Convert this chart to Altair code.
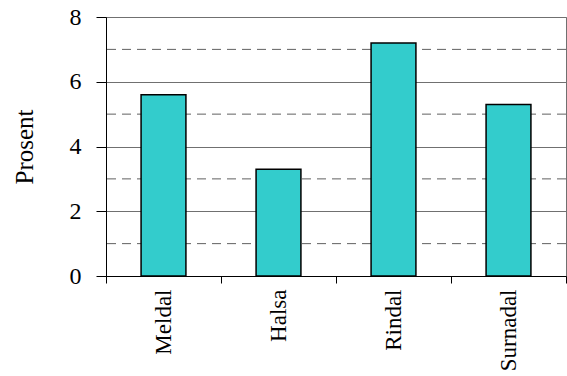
import altair as alt
import pandas as pd

# Municipalities and their percentage values
kommuner = ["Meldal", "Halsa", "Rindal", "Surnadal"]
prosent = [5.6, 3.3, 7.2, 5.3]

# Minor (dashed) gridline levels between the major ticks
minor_levels = [1, 3, 5, 7]

bars_df = pd.DataFrame({"kommune": kommuner, "prosent": prosent})
minor_df = pd.DataFrame({"level": minor_levels})

FONT = "Liberation Serif"

y_scale = alt.Scale(domain=[0, 8], nice=False)

dashed = alt.Chart(minor_df).mark_rule(
    color="#606060", strokeDash=[9, 6], strokeWidth=1
).encode(y=alt.Y("level:Q", scale=y_scale))

bars = alt.Chart(bars_df).mark_bar(
    color="#33CCCC",
    stroke="black",
    strokeWidth=1.5,
    width=alt.RelativeBandSize(0.39),
).encode(
    x=alt.X(
        "kommune:N",
        sort=kommuner,
        title=None,
        scale=alt.Scale(paddingInner=0, paddingOuter=0),
        axis=alt.Axis(
            labelAngle=-90,
            labelFont=FONT,
            labelFontSize=23,
            labelColor="black",
            labelPadding=6,
            tickBand="extent",
            tickColor="black",
            tickSize=7,
            domainColor="black",
            domainWidth=1,
            grid=False,
        ),
    ),
    y=alt.Y(
        "prosent:Q",
        scale=y_scale,
        title="Prosent",
        axis=alt.Axis(
            values=[0, 2, 4, 6, 8],
            labelFont=FONT,
            labelFontSize=24,
            labelColor="black",
            labelPadding=15,
            tickColor="black",
            tickSize=10,
            domainColor="black",
            gridColor="#707070",
            gridWidth=1,
            titleFont=FONT,
            titleFontSize=25,
            titleFontWeight="normal",
            titleColor="black",
            titlePadding=32,
        ),
    ),
)

chart = (
    alt.layer(dashed, bars)
    .properties(
        width=460,
        height=259,
        padding={"left": 106, "top": 17, "right": 1, "bottom": 100},
        autosize=alt.AutoSizeParams(type="none"),
        background="white",
    )
    .configure_view(stroke="#707070", strokeWidth=1)
)

chart.save("out.html", embed_options={"renderer": "svg", "actions": False})
